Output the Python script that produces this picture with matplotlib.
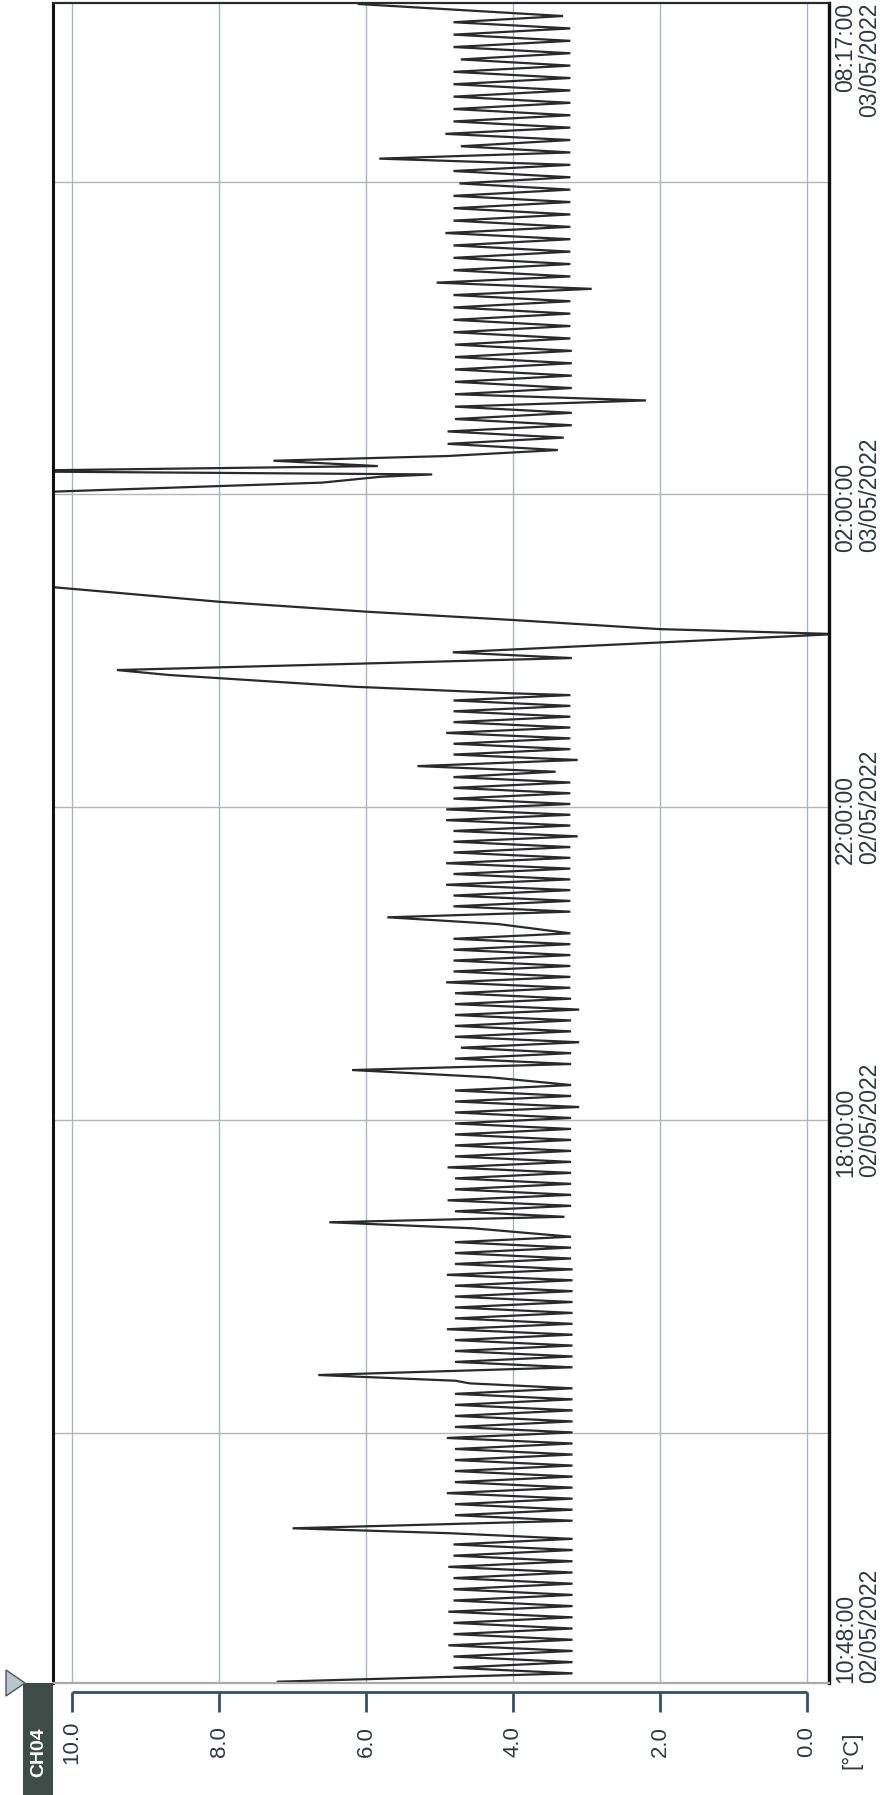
import numpy as np
import matplotlib.pyplot as plt
from matplotlib.patches import Rectangle, Polygon
from datetime import datetime

# ---- data (minutes after 10:48 on 02/05/2022, temperature in deg C) ----
start = datetime(2022, 5, 2, 10, 48)
end = datetime(2022, 5, 3, 8, 17)

# regular cooling cycles: (first vertex minute, last vertex minute), alternating low/high readings
run_a_span = (7.4, 114.9)
run_a = [3.19, 4.81, 3.19, 4.81, 3.19, 4.88, 3.19, 4.81, 3.19, 4.81, 3.19, 4.88, 3.19,
         4.81, 3.19, 4.81, 3.19, 4.81, 3.19, 4.88, 3.19, 4.81, 3.19, 4.81, 3.19, 4.85]
run_b_span = (124.5, 226.1)
run_b = [3.19, 4.79, 3.19, 4.79, 3.19, 4.90, 3.19, 4.79, 3.19, 4.79, 3.19, 4.79, 3.19,
         4.79, 3.19, 4.90, 3.19, 4.79, 3.19, 4.79, 3.19, 4.79, 3.19, 4.79, 3.19]
run_c_span = (242.2, 342.4)
run_c = [3.19, 4.79, 3.19, 4.79, 3.19, 4.79, 3.19, 4.90, 3.19, 4.79, 3.19, 4.79, 3.19,
         4.79, 3.19, 4.79, 3.19, 4.90, 3.19, 4.79, 3.21, 4.79, 3.21, 4.79, 3.21]
run_d_span = (357.7, 458.8)
run_d = [3.30, 4.79, 3.21, 4.89, 3.21, 4.79, 3.21, 4.79, 3.21, 4.89, 3.21, 4.79, 3.21,
         4.79, 3.21, 4.79, 3.21, 4.79, 3.21, 4.79, 3.10, 4.79, 3.21, 4.79, 3.21]
run_e_span = (474.9, 575.2)
run_e = [3.21, 4.79, 3.21, 4.71, 3.10, 4.79, 3.21, 4.79, 3.21, 4.79, 3.10, 4.79, 3.21,
         4.79, 3.22, 4.91, 3.22, 4.81, 3.22, 4.81, 3.22, 4.81, 3.22, 4.81, 3.22]
run_f_span = (591.8, 699.2)
run_f = [3.22, 4.81, 3.22, 4.81, 3.22, 4.91, 3.22, 4.81, 3.22, 4.91, 3.22, 4.81, 3.22, 4.81,
         3.12, 4.81, 3.22, 4.91, 3.22, 4.91, 3.22, 4.81, 3.22, 4.81, 3.22, 4.81, 3.42]
run_g_span = (708.2, 758.0)
run_g = [3.12, 4.81, 3.22, 4.81, 3.22, 4.91, 3.22, 4.81, 3.22, 4.81, 3.22, 4.81, 3.22]
run_h_span = (946.0, 1279.0)
run_h = [3.39, 4.89, 3.31, 4.89, 3.20, 4.79, 3.20, 4.79, 2.19, 4.79, 3.20, 4.79, 3.20,
         4.79, 3.20, 4.79, 3.20, 4.79, 3.22,
         4.81, 3.22, 4.81, 3.22, 4.81, 3.22, 4.81, 2.93, 5.04, 3.22, 4.81, 3.22, 4.81,
         3.22, 4.81, 3.22, 4.92, 3.22, 4.81, 3.22, 4.81, 3.22, 4.81, 3.22, 4.73, 3.22,
         4.81, 3.22, 5.82, 3.22, 4.71, 3.22, 4.92, 3.22, 4.81, 3.22, 4.81, 3.22, 4.81,
         3.22, 4.81, 3.22, 4.81, 3.22, 4.71, 3.22, 4.81, 3.22, 4.81, 3.22, 4.81, 3.32]

# defrost spikes and other single readings
event_min = [1.0, 118.7, 229.9, 231.9, 236.3, 348.9, 353.5, 464.7, 470.3, 582.3, 587.5,
             703.5, 759.3, 764.4, 773.4, 777.2, 786.4, 790.8, 804.8, 808.6, 815.6, 822.0,
             829.6, 841.0, 870.0, 900.0, 914.0, 921.0, 925.5, 927.3, 929.8, 933.7, 937.8,
             941.4, 1288.2]
event_temp = [7.20, 7.00, 4.59, 4.78, 6.65, 4.55, 6.50, 4.30, 6.19, 4.20, 5.71,
              5.30, 4.00, 6.17, 8.68, 9.39, 3.20, 4.82, -0.40, 2.00, 4.00, 6.00,
              8.00, 10.30, 13.00, 13.00, 10.30, 6.60, 5.80, 5.10, 11.30, 5.84, 7.26,
              4.90, 6.10]

temp_ticks = [10.0, 8.0, 6.0, 4.0, 2.0, 0.0]
grid_times = [datetime(2022, 5, 2, 14), datetime(2022, 5, 2, 18), datetime(2022, 5, 2, 22),
              datetime(2022, 5, 3, 2), datetime(2022, 5, 3, 6)]
label_times = [start, datetime(2022, 5, 2, 18), datetime(2022, 5, 2, 22),
               datetime(2022, 5, 3, 2), end]


def minutes(dt):
    return (dt - start).total_seconds() / 60.0


# build the trace
runs = [(run_a_span, run_a), (run_b_span, run_b), (run_c_span, run_c), (run_d_span, run_d),
        (run_e_span, run_e), (run_f_span, run_f), (run_g_span, run_g), (run_h_span, run_h)]
t_all = list(event_min)
v_all = list(event_temp)
for span, vals in runs:
    t_all.extend(np.linspace(span[0], span[1], len(vals)))
    v_all.extend(vals)
order = np.argsort(t_all)
t_all = np.array(t_all)[order]
v_all = np.array(v_all)[order]

# ---- figure (rotated chart layout) ----
W, H = 885, 1795


def fx(px):
    return px / W


def fy(py):
    return 1 - py / H


plt.rcParams['font.family'] = ['Liberation Sans', 'DejaVu Sans']
fig = plt.figure(figsize=(W / 100, H / 100), dpi=100)
ax = fig.add_axes([fx(53), fy(1683), fx(829) - fx(53), fy(3) - fy(1683)])

ax.plot(v_all, t_all, color='#2a2a2a', lw=1.6, solid_joinstyle='miter')

ax.set_xlim(10.26, -0.30)
ax.set_ylim(0, minutes(end))
ax.set_xticks(temp_ticks)
ax.set_yticks([minutes(g) for g in grid_times])
ax.grid(axis='x', color='#a9b5c3', lw=1.0)
ax.grid(axis='y', color='#b5b5b5', lw=1.0)
ax.tick_params(length=0, labelbottom=False, labelleft=False)
for side, col, lw in [('left', '#111111', 2.2), ('right', '#111111', 2.4),
                      ('top', '#2a2a2a', 1.6), ('bottom', '#aaaaaa', 1.6)]:
    ax.spines[side].set_color(col)
    ax.spines[side].set_linewidth(lw)

ax_h = 1680.0
ax_w = 776.0
txt_col = '#2d3840'

# temperature scale bracket under the plot
xtr = ax.get_xaxis_transform()
y_line = -9 / ax_h
y_tick = -29 / ax_h
ax.plot([temp_ticks[0], temp_ticks[-1]], [y_line, y_line], transform=xtr,
        color='#34506a', lw=2.0, clip_on=False, solid_capstyle='butt')
for v in temp_ticks:
    ax.plot([v, v], [y_line, y_tick], transform=xtr, color='#34506a', lw=2.0,
            clip_on=False, solid_capstyle='butt')
    ax.text(v, -59 / ax_h, f'{v:.1f}', transform=xtr, rotation=90, ha='center',
            va='center', fontsize=16, color=txt_col)

# time labels on the right
ytr = ax.get_yaxis_transform()
for i, dt in enumerate(label_times):
    if i == 0:
        ha, ma = 'left', 'left'
    elif i == len(label_times) - 1:
        ha, ma = 'right', 'right'
    else:
        ha, ma = 'center', 'left'
    ax.text(1 + 5 / ax_w, minutes(dt), dt.strftime('%H:%M:%S\n%d/%m/%Y'), transform=ytr,
            rotation=90, rotation_mode='anchor', ha=ha, va='top', multialignment=ma,
            fontsize=16.5, linespacing=1.05, color=txt_col)

fig.text(fx(852), fy(1750), '[°C]', rotation=90, ha='center', va='center',
         fontsize=16, color=txt_col)

# channel tag
fig.patches.append(Rectangle((fx(23), fy(1795)), fx(53) - fx(23), fy(1683) - fy(1795),
                             transform=fig.transFigure, facecolor='#3e4c48', edgecolor='none'))
fig.text(fx(38.5), fy(1752), 'CH04', rotation=90, ha='center', va='center',
         fontsize=14, weight='bold', color='white')
fig.patches.append(Polygon([(fx(6), fy(1670)), (fx(6), fy(1696)), (fx(25), fy(1683))],
                           closed=True, transform=fig.transFigure, facecolor='#b9c5cc',
                           edgecolor='#555555', lw=1.0))

fig.savefig('out.png', dpi=100)
